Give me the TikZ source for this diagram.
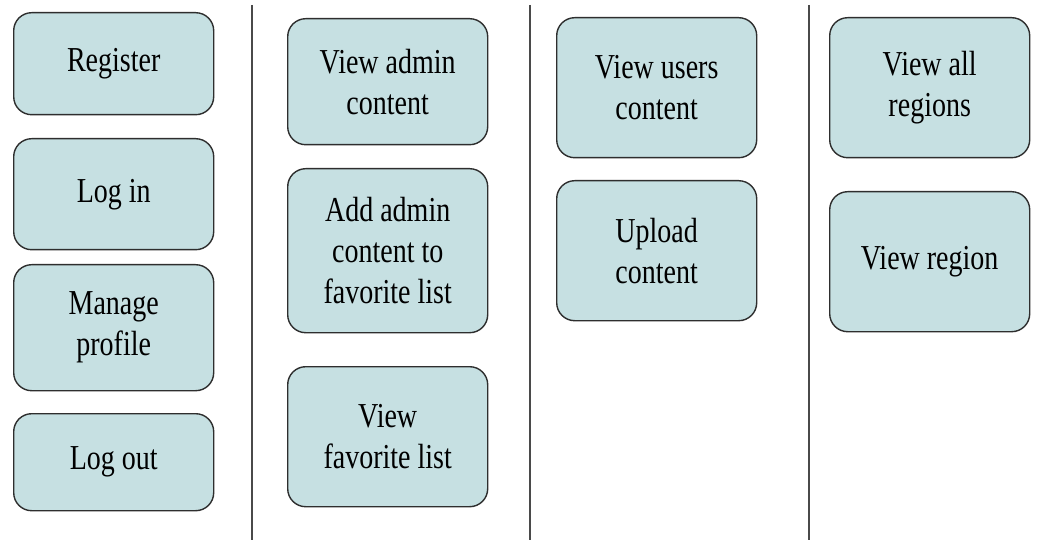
\documentclass[tikz,border=0pt]{standalone}
\usepackage{fontspec}
\setmainfont{Liberation Serif}[FakeStretch=0.8]
\definecolor{boxfill}{HTML}{C6E0E2}
\definecolor{boxline}{HTML}{2E2E2E}
\definecolor{sepline}{HTML}{4A4A4A}
\tikzset{
  usecase/.style={draw=boxline, fill=boxfill, line width=1.4pt,
    rounded corners=18pt, align=center, inner sep=0pt, anchor=north west,
    minimum width=200pt, font=\fontsize{35}{41}\selectfont},
  separator/.style={draw=sepline, line width=1.3pt}
}
\begin{document}
\begin{tikzpicture}[x=1pt, y=-1pt]
  \useasboundingbox (0,0) rectangle (1039,540);
  \fill[white] (0,0) rectangle (1039,540);

  % column separators
  \draw[separator] (252,5) -- (252,540);
  \draw[separator] (530,5) -- (530,540);
  \draw[separator] (809,5) -- (809,540);

  % account actions
  \node[usecase, minimum height=102pt] (register) at (13,12) {Register};
  \node[usecase, minimum height=111pt] (login) at (13,138) {Log in};
  \node[usecase, minimum height=126pt] (profile) at (13,264) {Manage\\profile};
  \node[usecase, minimum height=97pt] (logout) at (13,413) {Log out};

  % admin content
  \node[usecase, minimum height=126pt] (viewadmin) at (287,18) {View admin\\content};
  \node[usecase, minimum height=164pt] (addfav) at (287,168) {Add admin\\content to\\favorite list};
  \node[usecase, minimum height=140pt] (viewfav) at (287,366) {View\\favorite list};

  % user content
  \node[usecase, minimum height=140pt] (viewusers) at (556,17) {View users\\content};
  \node[usecase, minimum height=140pt] (upload) at (556,180) {Upload\\content};

  % regions
  \node[usecase, minimum height=140pt] (allregions) at (829,17) {View all\\regions};
  \node[usecase, minimum height=140pt] (region) at (829,191) {View region};
\end{tikzpicture}
\end{document}
